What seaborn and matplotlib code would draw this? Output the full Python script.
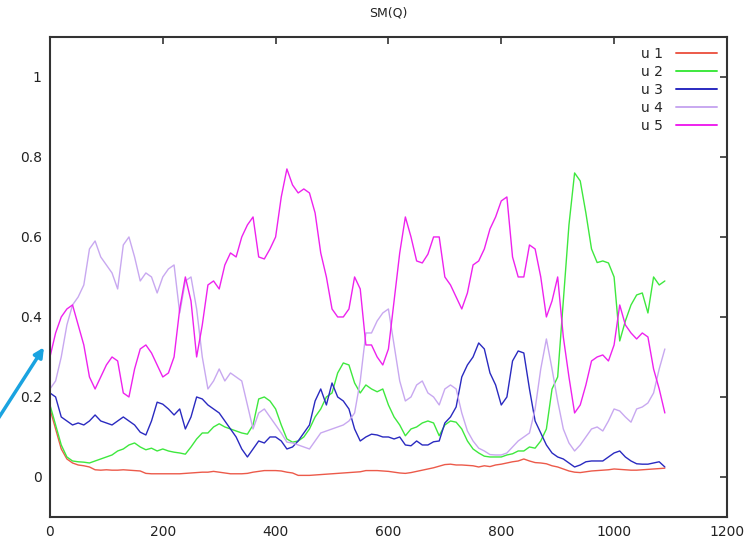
import numpy as np
import pandas as pd
import matplotlib
matplotlib.use("Agg")
import matplotlib.pyplot as plt
import seaborn as sns

# sample index (every 10 steps)
steps = list(range(0, 1100, 10))

u1 = [0.17, 0.12, 0.07, 0.045, 0.035, 0.03, 0.028, 0.025, 0.018, 0.017,
      0.018, 0.017, 0.017, 0.018, 0.017, 0.016, 0.015, 0.009, 0.008, 0.008,
      0.008, 0.008, 0.008, 0.008, 0.009, 0.01, 0.011, 0.012, 0.012, 0.014,
      0.012, 0.01, 0.008, 0.008, 0.008, 0.009, 0.012, 0.014, 0.016, 0.016,
      0.016, 0.015, 0.012, 0.01, 0.004, 0.004, 0.004, 0.005, 0.006, 0.007,
      0.008, 0.009, 0.01, 0.011, 0.012, 0.013, 0.016, 0.016, 0.016, 0.015,
      0.014, 0.012, 0.01, 0.009, 0.011, 0.014, 0.017, 0.02, 0.023, 0.027,
      0.031, 0.032, 0.03, 0.03, 0.029, 0.028, 0.025, 0.028, 0.026, 0.03,
      0.032, 0.035, 0.038, 0.04, 0.045, 0.04, 0.036, 0.035, 0.033, 0.028,
      0.025, 0.02, 0.015, 0.012, 0.011, 0.013, 0.015, 0.016, 0.017, 0.018,
      0.02, 0.019, 0.018, 0.017, 0.017, 0.018, 0.019, 0.02, 0.021, 0.022]

u2 = [0.18, 0.13, 0.08, 0.05, 0.04, 0.038, 0.037, 0.035, 0.04, 0.045,
      0.05, 0.055, 0.065, 0.07, 0.08, 0.085, 0.075, 0.068, 0.072, 0.065,
      0.07, 0.065, 0.062, 0.06, 0.057, 0.075, 0.095, 0.11, 0.11, 0.125,
      0.133, 0.125, 0.12, 0.115, 0.11, 0.107, 0.13, 0.195, 0.2, 0.19,
      0.17, 0.13, 0.095, 0.087, 0.09, 0.1, 0.12, 0.15, 0.17, 0.2,
      0.21, 0.26, 0.285, 0.28, 0.235, 0.21, 0.23, 0.22, 0.213, 0.22,
      0.18, 0.15, 0.13, 0.103, 0.12, 0.125, 0.135, 0.14, 0.135, 0.103,
      0.13, 0.14, 0.137, 0.12, 0.09, 0.07, 0.06, 0.052, 0.05, 0.05,
      0.05, 0.055, 0.058, 0.065, 0.065, 0.075, 0.072, 0.09, 0.12, 0.22,
      0.25, 0.44, 0.63, 0.76, 0.74, 0.66, 0.57, 0.536, 0.54, 0.535,
      0.5, 0.34, 0.39, 0.43, 0.455, 0.46, 0.41, 0.5, 0.48, 0.49]

u3 = [0.21, 0.2, 0.15, 0.14, 0.13, 0.135, 0.13, 0.14, 0.155, 0.14,
      0.135, 0.13, 0.14, 0.15, 0.14, 0.13, 0.112, 0.105, 0.14, 0.187,
      0.182, 0.17, 0.155, 0.17, 0.12, 0.15, 0.2, 0.195, 0.18, 0.17,
      0.16, 0.14, 0.12, 0.1, 0.07, 0.05, 0.07, 0.09, 0.085, 0.1,
      0.1, 0.09, 0.07, 0.075, 0.09, 0.11, 0.13, 0.19, 0.22, 0.18,
      0.235, 0.2, 0.19, 0.17, 0.12, 0.09, 0.1, 0.107, 0.105, 0.1,
      0.1, 0.095, 0.1, 0.08, 0.078, 0.09, 0.08, 0.08, 0.088, 0.09,
      0.135, 0.15, 0.175, 0.25, 0.28, 0.3, 0.335, 0.32, 0.26, 0.23,
      0.18, 0.2, 0.29, 0.315, 0.31, 0.22, 0.14, 0.11, 0.08, 0.06,
      0.05, 0.045, 0.035, 0.025, 0.03, 0.038, 0.04, 0.04, 0.04, 0.05,
      0.06, 0.065, 0.05, 0.04, 0.033, 0.032, 0.032, 0.035, 0.038, 0.025]

u4 = [0.22, 0.24, 0.3, 0.38, 0.43, 0.45, 0.48, 0.57, 0.59, 0.55,
      0.53, 0.51, 0.47, 0.58, 0.6, 0.55, 0.49, 0.51, 0.5, 0.46,
      0.5, 0.52, 0.53, 0.41, 0.49, 0.5, 0.42, 0.3, 0.22, 0.24,
      0.27, 0.24, 0.26, 0.25, 0.24, 0.18, 0.12, 0.16, 0.17, 0.15,
      0.13, 0.11, 0.087, 0.085, 0.08, 0.075, 0.07, 0.09, 0.11, 0.115,
      0.12, 0.125, 0.13, 0.14, 0.16, 0.24, 0.36, 0.36, 0.39, 0.41,
      0.42, 0.33, 0.24, 0.19, 0.2, 0.23, 0.24, 0.21, 0.2, 0.18,
      0.22, 0.23, 0.22, 0.16, 0.115, 0.09, 0.072, 0.065, 0.056, 0.055,
      0.055, 0.06, 0.075, 0.09, 0.1, 0.11, 0.17, 0.27, 0.345, 0.27,
      0.19, 0.12, 0.085, 0.065, 0.08, 0.1, 0.12, 0.125, 0.115, 0.14,
      0.17, 0.165, 0.15, 0.137, 0.17, 0.175, 0.185, 0.21, 0.27, 0.32]

u5 = [0.3, 0.36, 0.4, 0.42, 0.43, 0.38, 0.33, 0.25, 0.22, 0.25,
      0.28, 0.3, 0.29, 0.21, 0.2, 0.27, 0.32, 0.33, 0.31, 0.28,
      0.25, 0.26, 0.3, 0.42, 0.5, 0.44, 0.3, 0.38, 0.48, 0.49,
      0.47, 0.53, 0.56, 0.55, 0.6, 0.63, 0.65, 0.55, 0.545, 0.57,
      0.6, 0.7, 0.77, 0.73, 0.71, 0.72, 0.71, 0.66, 0.56, 0.5,
      0.42, 0.4, 0.4, 0.42, 0.5, 0.47, 0.33, 0.33, 0.3, 0.28,
      0.32, 0.44, 0.56, 0.65, 0.6, 0.54, 0.535, 0.557, 0.6, 0.6,
      0.5, 0.48, 0.45, 0.42, 0.46, 0.53, 0.54, 0.57, 0.62, 0.65,
      0.69, 0.7, 0.55, 0.5, 0.5, 0.58, 0.57, 0.5, 0.4, 0.44,
      0.5, 0.35, 0.25, 0.16, 0.18, 0.23, 0.29, 0.3, 0.305, 0.29,
      0.33, 0.43, 0.38, 0.36, 0.345, 0.36, 0.35, 0.27, 0.22, 0.16]

series = {"u 1": u1, "u 2": u2, "u 3": u3, "u 4": u4, "u 5": u5}
colors = {"u 1": "#ec5a4a", "u 2": "#3ee83e", "u 3": "#2a2ac0",
          "u 4": "#c8a8f0", "u 5": "#ee22ee"}

df = pd.concat([pd.DataFrame({"step": steps, "value": v, "series": k})
                for k, v in series.items()], ignore_index=True)

sns.set_style("white")
plt.rcParams['font.family'] = ['DejaVu Sans']

fig = plt.figure(figsize=(7.48, 5.48), dpi=100)
ax = fig.add_axes([0.0668, 0.0566, 0.905, 0.876])

sns.lineplot(data=df, x="step", y="value", hue="series", palette=colors,
             estimator=None, linewidth=1.0, ax=ax)

ax.set_xlim(0, 1200)
ax.set_ylim(-0.1, 1.1)
ax.set_xticks([0, 200, 400, 600, 800, 1000, 1200])
ax.set_yticks([0, 0.2, 0.4, 0.6, 0.8, 1])
ax.set_yticklabels(["0", "0.2", "0.4", "0.6", "0.8", "1"])
ax.set_xlabel("")
ax.set_ylabel("")
ax.set_title("SM(Q)", fontsize=9, pad=15, color="#222222")

for s in ax.spines.values():
    s.set_linewidth(1.5)
    s.set_color("#333333")
ax.tick_params(direction="in", length=5, width=1.2, top=True, right=True,
               labelsize=10, colors="#333333", labelcolor="#222222", pad=6)

leg = ax.legend(loc="upper right", frameon=False, markerfirst=False, fontsize=10,
                handlelength=3.0, handletextpad=0.9, labelspacing=0.3,
                borderaxespad=0.3, title=None)
for h in leg.get_lines():
    h.set_linewidth(1.4)

# blue pointer arrow on the left
ax.annotate("", xy=(-8, 0.33), xycoords="data",
            xytext=(-0.01, 0.22), textcoords="figure fraction",
            arrowprops=dict(arrowstyle="-|>", color="#1aa3e0", lw=2.5,
                            mutation_scale=14),
            annotation_clip=False)

fig.savefig("out.png", dpi=100)
